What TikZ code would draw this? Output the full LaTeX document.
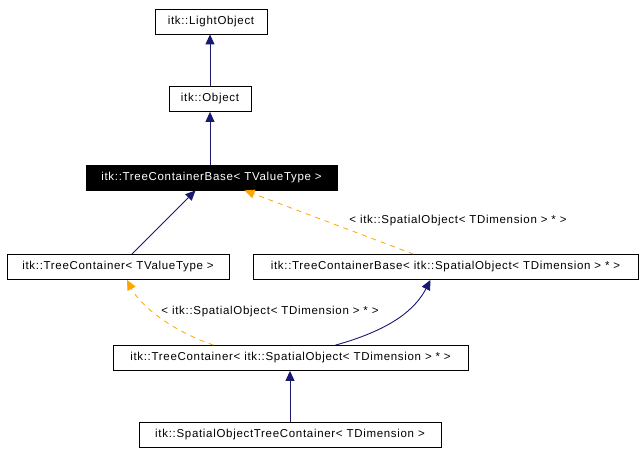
\documentclass[tikz,border=0pt]{standalone}
\usepackage{fontspec}
\setmainfont{Liberation Sans}[LetterSpace=6]
\usetikzlibrary{positioning,arrows.meta}
\definecolor{edgeblue}{RGB}{25,25,112}
\definecolor{edgeorange}{RGB}{255,165,0}

\begin{document}
\begin{tikzpicture}[x=1pt, y=-1pt,
  cls/.style={draw, line width=0.8pt, inner sep=0pt, minimum height=25pt, font=\fontsize{11.5}{13}\selectfont},
  current/.style={cls, fill=black, text=white},
  inherit/.style={edgeblue, line width=0.9pt, -{Triangle[length=10pt, width=9pt]}},
  tmpl/.style={edgeorange, line width=0.8pt, dash pattern=on 5pt off 5pt, -{Triangle[length=10pt, width=9pt, sep=0pt]}},
  tlabel/.style={font=\fontsize{11.5}{13}\selectfont, text=black, inner sep=1pt}
]
\useasboundingbox[fill=white] (0,0) rectangle (644,455);

\node[cls, minimum width=112pt] (light) at (211,21.5) {itk::LightObject};
\node[cls, minimum width=82pt] (object) at (210,99) {itk::Object};
\node[current, minimum width=251pt] (tcbase) at (211.5,177.5) {itk::TreeContainerBase< TValueType >};
\node[cls, minimum width=222pt] (tcont) at (118,267) {itk::TreeContainer< TValueType >};
\node[cls, minimum width=385pt] (tcbspatial) at (445.5,267) {itk::TreeContainerBase< itk::SpatialObject< TDimension > * >};
\node[cls, minimum width=355pt] (tcspatial) at (290.5,358) {itk::TreeContainer< itk::SpatialObject< TDimension > * >};
\node[cls, minimum width=302pt] (sotc) at (290,435) {itk::SpatialObjectTreeContainer< TDimension >};

\draw[inherit] (object.north) -- (object.north |- light.south);
\draw[inherit] (tcbase.north -| object.south) -- (object.south);
\draw[inherit] (tcont.north) ++(14,0) -- ([xshift=-16pt]tcbase.south);
\draw[tmpl] ([xshift=-32pt]tcbspatial.north) -- ([xshift=33pt]tcbase.south);
\node[tlabel] (lbl1) at (458,221) {< itk::SpatialObject< TDimension > * >};
\draw[tmpl] ([xshift=-77pt]tcspatial.north) .. controls (170,330) and (140,305) .. ([xshift=9pt]tcont.south);
\node[tlabel] (lbl2) at (270,312) {< itk::SpatialObject< TDimension > * >};
\draw[inherit] ([xshift=45pt]tcspatial.north) .. controls (390,330) and (415,310) .. ([xshift=-15pt]tcbspatial.south);
\draw[inherit] (sotc.north) -- (sotc.north |- tcspatial.south);
\end{tikzpicture}
\end{document}
